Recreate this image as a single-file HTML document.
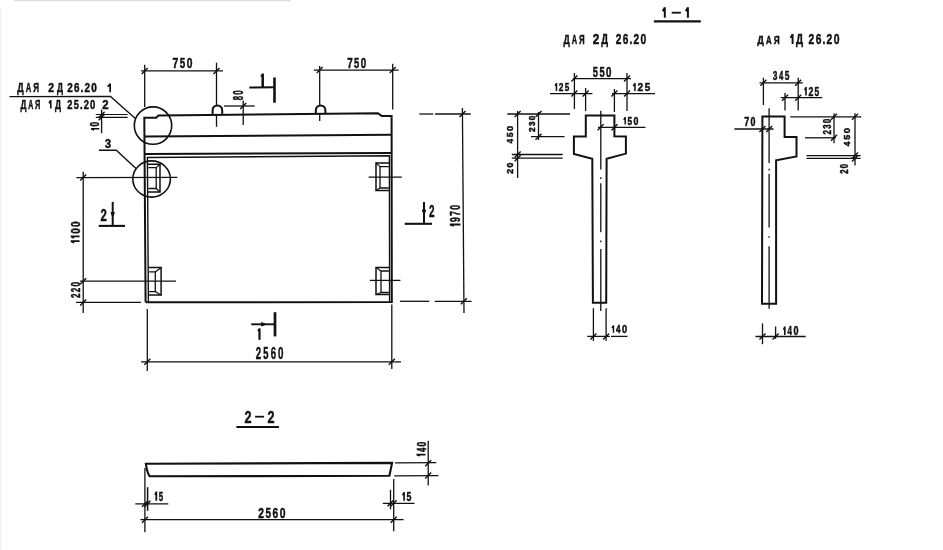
<!DOCTYPE html>
<html><head><meta charset="utf-8"><style>
html,body{margin:0;padding:0;background:#fff;}
svg{display:block;will-change:transform;}
text{font-family:"Liberation Sans",sans-serif;font-weight:bold;fill:#111;}
</style></head><body>
<svg width="943" height="550" viewBox="0 0 943 550">
<rect width="943" height="550" fill="#fff"/>
<polyline points="145.6,302.3 144.3,117.7 156.2,117.7 158.4,115.5 377.8,113.2 381.7,115.9 391.6,115.9 391.8,302.0 145.6,302.3" fill="none" stroke="#111" stroke-width="2.0" stroke-linejoin="miter"/>
<line x1="145" y1="136.6" x2="391.5" y2="134.7" stroke="#111" stroke-width="2.0" />
<line x1="145" y1="154.0" x2="391.5" y2="153.0" stroke="#111" stroke-width="2.0" />
<polyline points="148.4,302 147.4,157.5 389.4,155.7 389.6,301.5" fill="none" stroke="#111" stroke-width="1.4" stroke-linejoin="miter"/>
<path d="M212.6,114 L212.6,110.2 A4.8,4.8 0 0 1 222.20000000000002,110.2 L222.20000000000002,114" fill="none" stroke="#111" stroke-width="2.0"/>
<path d="M315.8,114 L315.8,110.2 A4.8,4.8 0 0 1 325.40000000000003,110.2 L325.40000000000003,114" fill="none" stroke="#111" stroke-width="2.0"/>
<polyline points="147.6,164.3 160.0,164.3 160.0,192.0 147.6,192.0" fill="none" stroke="#111" stroke-width="1.5" stroke-linejoin="miter"/>
<polyline points="148.4,167.6 156.2,167.6 156.2,188.5 148.4,188.5" fill="none" stroke="#111" stroke-width="1.3" stroke-linejoin="miter"/>
<line x1="156.2" y1="167.6" x2="160.0" y2="164.3" stroke="#111" stroke-width="1.2" />
<line x1="156.2" y1="188.5" x2="160.0" y2="192.0" stroke="#111" stroke-width="1.2" />
<polyline points="148.3,267.5 161.1,267.5 161.1,295.0 148.3,295.0" fill="none" stroke="#111" stroke-width="1.5" stroke-linejoin="miter"/>
<polyline points="149.10000000000002,271.9 155.3,271.9 155.3,291.6 149.10000000000002,291.6" fill="none" stroke="#111" stroke-width="1.3" stroke-linejoin="miter"/>
<line x1="155.3" y1="271.9" x2="161.1" y2="267.5" stroke="#111" stroke-width="1.2" />
<line x1="155.3" y1="291.6" x2="161.1" y2="295.0" stroke="#111" stroke-width="1.2" />
<polyline points="389.3,163.0 376.0,163.0 376.0,190.5 389.3,190.5" fill="none" stroke="#111" stroke-width="1.5" stroke-linejoin="miter"/>
<polyline points="388.8,166.6 380.0,166.6 380.0,188.0 388.8,188.0" fill="none" stroke="#111" stroke-width="1.3" stroke-linejoin="miter"/>
<line x1="380.0" y1="166.6" x2="376.0" y2="163.0" stroke="#111" stroke-width="1.2" />
<line x1="380.0" y1="188.0" x2="376.0" y2="190.5" stroke="#111" stroke-width="1.2" />
<polyline points="389.4,267.5 376.0,267.5 376.0,294.5 389.4,294.5" fill="none" stroke="#111" stroke-width="1.5" stroke-linejoin="miter"/>
<polyline points="388.9,271.0 381.0,271.0 381.0,292.5 388.9,292.5" fill="none" stroke="#111" stroke-width="1.3" stroke-linejoin="miter"/>
<line x1="381.0" y1="271.0" x2="376.0" y2="267.5" stroke="#111" stroke-width="1.2" />
<line x1="381.0" y1="292.5" x2="376.0" y2="294.5" stroke="#111" stroke-width="1.2" />
<line x1="76.4" y1="177.6" x2="177.3" y2="177.3" stroke="#111" stroke-width="1.3" />
<line x1="80" y1="281.2" x2="176" y2="281.2" stroke="#111" stroke-width="1.3" />
<line x1="368.6" y1="177.2" x2="401.8" y2="177.2" stroke="#111" stroke-width="1.3" />
<line x1="369.8" y1="280.4" x2="400.4" y2="280.4" stroke="#111" stroke-width="1.3" />
<circle cx="153" cy="125.6" r="18.7" fill="none" stroke="#111" stroke-width="1.6"/>
<ellipse cx="151.6" cy="179" rx="18.8" ry="18.1" fill="none" stroke="#111" stroke-width="1.6"/>
<polyline points="135.3,118.5 110.5,96.5 9.5,96.6" fill="none" stroke="#111" stroke-width="1.3" stroke-linejoin="miter"/>
<polyline points="136,168.5 116.3,150.3 99,150.3" fill="none" stroke="#111" stroke-width="1.4" stroke-linejoin="miter"/>
<text transform="translate(17.22 92.30) scale(0.701 1)" font-size="12.90" stroke="#111" stroke-width="0.5">Д</text>
<text transform="translate(25.74 92.30) scale(0.592 1)" font-size="12.90" stroke="#111" stroke-width="0.5">А</text>
<text transform="translate(33.34 92.30) scale(0.626 1)" font-size="12.90" stroke="#111" stroke-width="0.5">Я</text>
<text transform="translate(48.14 92.30) scale(0.808 1)" font-size="12.90" stroke="#111" stroke-width="0.5">2</text>
<text transform="translate(56.96 92.30) scale(0.653 1)" font-size="12.90" stroke="#111" stroke-width="0.5">Д</text>
<text transform="translate(67.16 92.30) scale(0.766 1)" font-size="12.90" stroke="#111" stroke-width="0.5">2</text>
<text transform="translate(74.03 92.30) scale(0.762 1)" font-size="12.90" stroke="#111" stroke-width="0.5">6</text>
<text transform="translate(80.60 92.30) scale(0.784 1)" font-size="12.90" stroke="#111" stroke-width="0.5">.</text>
<text transform="translate(84.51 92.30) scale(0.766 1)" font-size="12.90" stroke="#111" stroke-width="0.5">2</text>
<text transform="translate(91.35 92.30) scale(0.775 1)" font-size="12.90" stroke="#111" stroke-width="0.5">0</text>
<path d="M110.15,83.40 L110.15,92.30 M110.15,83.70 L107.70,86.78" fill="none" stroke="#111" stroke-width="1.69"/>
<text transform="translate(20.43 108.50) scale(0.669 1)" font-size="12.32" stroke="#111" stroke-width="0.5">Д</text>
<text transform="translate(28.19 108.50) scale(0.565 1)" font-size="12.32" stroke="#111" stroke-width="0.5">А</text>
<text transform="translate(35.11 108.50) scale(0.597 1)" font-size="12.32" stroke="#111" stroke-width="0.5">Я</text>
<path d="M50.77,100.00 L50.77,108.50 M50.77,100.30 L49.00,103.23" fill="none" stroke="#111" stroke-width="1.61"/>
<text transform="translate(55.03 108.50) scale(0.687 1)" font-size="12.32" stroke="#111" stroke-width="0.5">Д</text>
<text transform="translate(67.18 108.50) scale(0.760 1)" font-size="12.32" stroke="#111" stroke-width="0.5">2</text>
<text transform="translate(73.76 108.50) scale(0.736 1)" font-size="12.32" stroke="#111" stroke-width="0.5">5</text>
<text transform="translate(79.92 108.50) scale(0.778 1)" font-size="12.32" stroke="#111" stroke-width="0.5">.</text>
<text transform="translate(83.63 108.50) scale(0.760 1)" font-size="12.32" stroke="#111" stroke-width="0.5">2</text>
<text transform="translate(90.12 108.50) scale(0.769 1)" font-size="12.32" stroke="#111" stroke-width="0.5">0</text>
<text transform="translate(102.30 108.50) scale(0.927 1)" font-size="12.32" stroke="#111" stroke-width="0.5">2</text>
<text transform="translate(105.05 147.70) scale(0.815 1)" font-size="13.33" stroke="#111" stroke-width="0.5">3</text>
<line x1="95.8" y1="114.5" x2="127.6" y2="114.5" stroke="#111" stroke-width="1.2" />
<line x1="95.8" y1="117.3" x2="127.6" y2="117.3" stroke="#111" stroke-width="1.2" />
<line x1="101.6" y1="109.6" x2="101.6" y2="133.2" stroke="#111" stroke-width="1.3" />
<line x1="98.6" y1="117.7" x2="104.6" y2="111.7" stroke="#111" stroke-width="1.4" />
<line x1="98.6" y1="120.3" x2="104.6" y2="114.3" stroke="#111" stroke-width="1.4" />
<path transform="translate(99.3 130.1) rotate(-90) " d="M1.38,-8.30 L1.38,0.00 M1.38,-8.00 L0.20,-5.15" fill="none" stroke="#111" stroke-width="1.58" stroke-linecap="butt"/>
<text transform="translate(99.3 130.1) rotate(-90) translate(3.62 0.00) scale(0.690 1)" font-size="12.03" stroke="#111" stroke-width="0.5">0</text>
<line x1="141" y1="70.9" x2="223" y2="70.9" stroke="#111" stroke-width="1.3" />
<line x1="144.7" y1="64.8" x2="144.7" y2="107" stroke="#111" stroke-width="1.3" />
<line x1="216.5" y1="62.7" x2="216.5" y2="105.5" stroke="#111" stroke-width="1.3" />
<line x1="216.5" y1="114" x2="216.5" y2="126.8" stroke="#111" stroke-width="1.3" />
<line x1="141.7" y1="73.9" x2="147.7" y2="67.9" stroke="#111" stroke-width="1.4" />
<line x1="213.5" y1="73.9" x2="219.5" y2="67.9" stroke="#111" stroke-width="1.4" />
<text transform="translate(172.55 68.00) scale(0.739 1)" font-size="14.06" stroke="#111" stroke-width="0.5">7</text>
<text transform="translate(179.76 68.00) scale(0.697 1)" font-size="14.06" stroke="#111" stroke-width="0.5">5</text>
<text transform="translate(186.72 68.00) scale(0.729 1)" font-size="14.06" stroke="#111" stroke-width="0.5">0</text>
<line x1="313.8" y1="70.1" x2="398.6" y2="70.1" stroke="#111" stroke-width="1.3" />
<line x1="319.7" y1="65.9" x2="319.7" y2="105" stroke="#111" stroke-width="1.3" />
<line x1="319.7" y1="114" x2="319.7" y2="121" stroke="#111" stroke-width="1.3" />
<line x1="392.7" y1="63.8" x2="392.7" y2="109.4" stroke="#111" stroke-width="1.3" />
<line x1="316.7" y1="73.1" x2="322.7" y2="67.1" stroke="#111" stroke-width="1.4" />
<line x1="389.7" y1="73.1" x2="395.7" y2="67.1" stroke="#111" stroke-width="1.4" />
<text transform="translate(347.28 68.00) scale(0.714 1)" font-size="13.77" stroke="#111" stroke-width="0.5">7</text>
<text transform="translate(354.11 68.00) scale(0.674 1)" font-size="13.77" stroke="#111" stroke-width="0.5">5</text>
<text transform="translate(360.70 68.00) scale(0.705 1)" font-size="13.77" stroke="#111" stroke-width="0.5">0</text>
<line x1="224" y1="106" x2="254.7" y2="106" stroke="#111" stroke-width="1.3" />
<line x1="243.2" y1="100.6" x2="243.2" y2="125.1" stroke="#111" stroke-width="1.3" />
<line x1="240.2" y1="109.0" x2="246.2" y2="103.0" stroke="#111" stroke-width="1.4" />
<text transform="translate(242.7 100) rotate(-90) translate(-0.24 0.00) scale(0.547 1)" font-size="14.06" stroke="#111" stroke-width="0.5">8</text>
<text transform="translate(242.7 100) rotate(-90) translate(5.19 0.00) scale(0.568 1)" font-size="14.06" stroke="#111" stroke-width="0.5">0</text>
<line x1="249.3" y1="87.5" x2="273.8" y2="87.3" stroke="#111" stroke-width="1.9" />
<line x1="274.5" y1="77.5" x2="274.5" y2="102.7" stroke="#111" stroke-width="2.6" />
<line x1="262.7" y1="73.6" x2="262.7" y2="88" stroke="#111" stroke-width="2.5" />
<line x1="262.7" y1="74.5" x2="260.8" y2="76.5" stroke="#111" stroke-width="1.6" />
<line x1="251.2" y1="324.3" x2="274" y2="324.3" stroke="#111" stroke-width="1.9" />
<line x1="275" y1="312.2" x2="275" y2="336.4" stroke="#111" stroke-width="2.7" />
<path d="M261.5,322.6 L266,324.3 L261.5,326 Z" fill="#111" stroke="#111" stroke-width="1"/>
<line x1="259.5" y1="328.4" x2="259.5" y2="339.8" stroke="#111" stroke-width="2.2" />
<line x1="259.5" y1="329" x2="257.8" y2="331" stroke="#111" stroke-width="1.5" />
<line x1="98.7" y1="225.9" x2="125" y2="225.9" stroke="#111" stroke-width="2.1" />
<line x1="112.7" y1="201.9" x2="112.7" y2="225" stroke="#111" stroke-width="2.0" />
<path d="M111,212.5 L112.7,217 L114.4,212.5 Z" fill="#111" stroke="#111" stroke-width="1"/>
<text transform="translate(100.50 221.40) scale(0.662 1)" font-size="17.25" stroke="#111" stroke-width="0.5">2</text>
<line x1="404.7" y1="223.8" x2="432" y2="223.8" stroke="#111" stroke-width="2.1" />
<line x1="424" y1="202" x2="424" y2="223.8" stroke="#111" stroke-width="2.0" />
<path d="M422.3,210 L424,214.5 L425.7,210 Z" fill="#111" stroke="#111" stroke-width="1"/>
<text transform="translate(429.05 217.00) scale(0.573 1)" font-size="17.39" stroke="#111" stroke-width="0.5">2</text>
<line x1="419.3" y1="114" x2="433.3" y2="114" stroke="#111" stroke-width="1.3" />
<line x1="435.1" y1="114" x2="470.7" y2="114" stroke="#111" stroke-width="1.3" />
<line x1="400" y1="301.3" x2="429.3" y2="301.3" stroke="#111" stroke-width="1.3" />
<line x1="434.7" y1="301.3" x2="471.6" y2="301.3" stroke="#111" stroke-width="1.3" />
<line x1="462.4" y1="108" x2="464" y2="313" stroke="#111" stroke-width="1.3" />
<line x1="459.5" y1="117.0" x2="465.5" y2="111.0" stroke="#111" stroke-width="1.4" />
<line x1="460.8" y1="304.3" x2="466.8" y2="298.3" stroke="#111" stroke-width="1.4" />
<path transform="translate(460.4 225.9) rotate(-90) " d="M1.32,-10.60 L1.32,0.00 M1.32,-10.30 L0.20,-6.57" fill="none" stroke="#111" stroke-width="2.01" stroke-linecap="butt"/>
<text transform="translate(460.4 225.9) rotate(-90) translate(3.92 0.00) scale(0.568 1)" font-size="15.36" stroke="#111" stroke-width="0.5">9</text>
<text transform="translate(460.4 225.9) rotate(-90) translate(9.96 0.00) scale(0.586 1)" font-size="15.36" stroke="#111" stroke-width="0.5">7</text>
<text transform="translate(460.4 225.9) rotate(-90) translate(16.12 0.00) scale(0.578 1)" font-size="15.36" stroke="#111" stroke-width="0.5">0</text>
<line x1="83.2" y1="171.8" x2="83.2" y2="313" stroke="#111" stroke-width="1.3" />
<line x1="80.2" y1="180.6" x2="86.2" y2="174.6" stroke="#111" stroke-width="1.4" />
<line x1="80.2" y1="284.2" x2="86.2" y2="278.2" stroke="#111" stroke-width="1.4" />
<line x1="80.2" y1="305.4" x2="86.2" y2="299.4" stroke="#111" stroke-width="1.4" />
<line x1="76" y1="302.4" x2="141" y2="302.4" stroke="#111" stroke-width="1.3" />
<path transform="translate(79.6 243) rotate(-90) " d="M1.79,-8.90 L1.79,0.00 M1.79,-8.60 L0.20,-5.52" fill="none" stroke="#111" stroke-width="1.69" stroke-linecap="butt"/>
<path transform="translate(79.6 243) rotate(-90) " d="M6.57,-8.90 L6.57,0.00 M6.57,-8.60 L4.99,-5.52" fill="none" stroke="#111" stroke-width="1.69" stroke-linecap="butt"/>
<text transform="translate(79.6 243) rotate(-90) translate(9.17 0.00) scale(0.780 1)" font-size="12.90" stroke="#111" stroke-width="0.5">0</text>
<text transform="translate(79.6 243) rotate(-90) translate(16.12 0.00) scale(0.780 1)" font-size="12.90" stroke="#111" stroke-width="0.5">0</text>
<text transform="translate(80.3 297.6) rotate(-90) translate(-0.28 0.00) scale(0.654 1)" font-size="12.46" stroke="#111" stroke-width="0.5">2</text>
<text transform="translate(80.3 297.6) rotate(-90) translate(5.41 0.00) scale(0.654 1)" font-size="12.46" stroke="#111" stroke-width="0.5">2</text>
<text transform="translate(80.3 297.6) rotate(-90) translate(11.05 0.00) scale(0.662 1)" font-size="12.46" stroke="#111" stroke-width="0.5">0</text>
<line x1="147.3" y1="309" x2="147.3" y2="371" stroke="#111" stroke-width="1.3" />
<line x1="391.8" y1="304.5" x2="391.8" y2="369" stroke="#111" stroke-width="1.3" />
<line x1="141" y1="361.8" x2="401" y2="361.8" stroke="#111" stroke-width="1.3" />
<line x1="144.3" y1="364.8" x2="150.3" y2="358.8" stroke="#111" stroke-width="1.4" />
<line x1="388.8" y1="364.8" x2="394.8" y2="358.8" stroke="#111" stroke-width="1.4" />
<text transform="translate(255.87 359.30) scale(0.604 1)" font-size="15.94" stroke="#111" stroke-width="0.5">2</text>
<text transform="translate(263.33 359.30) scale(0.585 1)" font-size="15.94" stroke="#111" stroke-width="0.5">5</text>
<text transform="translate(270.69 359.30) scale(0.602 1)" font-size="15.94" stroke="#111" stroke-width="0.5">6</text>
<text transform="translate(278.08 359.30) scale(0.612 1)" font-size="15.94" stroke="#111" stroke-width="0.5">0</text>
<path d="M664.81,7.30 L664.81,17.70 M664.81,7.60 L662.70,11.25" fill="none" stroke="#111" stroke-width="1.98"/>
<line x1="671.7" y1="12.7" x2="680.9" y2="12.7" stroke="#111" stroke-width="1.8" />
<path d="M687.91,7.30 L687.91,17.70 M687.91,7.60 L685.80,11.25" fill="none" stroke="#111" stroke-width="1.98"/>
<line x1="653.9" y1="21.3" x2="700.8" y2="21.3" stroke="#111" stroke-width="2.2" />
<text transform="translate(563.42 43.60) scale(0.705 1)" font-size="12.46" stroke="#111" stroke-width="0.5">Д</text>
<text transform="translate(571.70 43.60) scale(0.595 1)" font-size="12.46" stroke="#111" stroke-width="0.5">А</text>
<text transform="translate(579.09 43.60) scale(0.629 1)" font-size="12.46" stroke="#111" stroke-width="0.5">Я</text>
<text transform="translate(592.79 43.80) scale(0.832 1)" font-size="14.20" stroke="#111" stroke-width="0.5">2</text>
<text transform="translate(601.37 43.80) scale(0.672 1)" font-size="14.20" stroke="#111" stroke-width="0.5">Д</text>
<text transform="translate(615.65 43.90) scale(0.665 1)" font-size="15.22" stroke="#111" stroke-width="0.5">2</text>
<text transform="translate(622.69 43.90) scale(0.662 1)" font-size="15.22" stroke="#111" stroke-width="0.5">6</text>
<text transform="translate(629.42 43.90) scale(0.680 1)" font-size="15.22" stroke="#111" stroke-width="0.5">.</text>
<text transform="translate(633.42 43.90) scale(0.665 1)" font-size="15.22" stroke="#111" stroke-width="0.5">2</text>
<text transform="translate(640.43 43.90) scale(0.673 1)" font-size="15.22" stroke="#111" stroke-width="0.5">0</text>
<polygon points="585.8,115.5 614.4,115.5 614.4,136.2 625.9,136.5 625.9,153.6 606.6,158.8 606.2,302.8 592.9,302.8 592.3,158.8 573.9,154 573.9,136.5 585.8,136.5" fill="none" stroke="#111" stroke-width="2.0" stroke-linejoin="miter"/>
<line x1="600.8" y1="110.8" x2="600.8" y2="169.5" stroke="#111" stroke-width="1.3" />
<line x1="600.8" y1="177.3" x2="600.8" y2="179" stroke="#111" stroke-width="1.3" />
<line x1="600.8" y1="183.3" x2="600.8" y2="232.3" stroke="#111" stroke-width="1.3" />
<line x1="600.8" y1="240.5" x2="600.8" y2="242.2" stroke="#111" stroke-width="1.3" />
<line x1="600.8" y1="248.9" x2="600.8" y2="311" stroke="#111" stroke-width="1.3" />
<line x1="573" y1="78.6" x2="631" y2="78.6" stroke="#111" stroke-width="1.3" />
<line x1="574.4" y1="73" x2="574.4" y2="109" stroke="#111" stroke-width="1.3" />
<line x1="627" y1="73" x2="627" y2="111" stroke="#111" stroke-width="1.3" />
<line x1="571.4" y1="81.6" x2="577.4" y2="75.6" stroke="#111" stroke-width="1.4" />
<line x1="624.0" y1="81.6" x2="630.0" y2="75.6" stroke="#111" stroke-width="1.4" />
<text transform="translate(592.71 77.00) scale(0.640 1)" font-size="14.49" stroke="#111" stroke-width="0.5">5</text>
<text transform="translate(599.41 77.00) scale(0.640 1)" font-size="14.49" stroke="#111" stroke-width="0.5">5</text>
<text transform="translate(606.00 77.00) scale(0.670 1)" font-size="14.49" stroke="#111" stroke-width="0.5">0</text>
<line x1="550" y1="93.6" x2="592.4" y2="93.6" stroke="#111" stroke-width="1.3" />
<line x1="612" y1="93.6" x2="655" y2="93.6" stroke="#111" stroke-width="1.3" />
<line x1="585.6" y1="88" x2="585.6" y2="111" stroke="#111" stroke-width="1.3" />
<line x1="614.4" y1="89" x2="614.4" y2="112" stroke="#111" stroke-width="1.3" />
<line x1="571.4" y1="96.6" x2="577.4" y2="90.6" stroke="#111" stroke-width="1.4" />
<line x1="582.6" y1="96.6" x2="588.6" y2="90.6" stroke="#111" stroke-width="1.4" />
<line x1="611.4" y1="96.6" x2="617.4" y2="90.6" stroke="#111" stroke-width="1.4" />
<line x1="624.0" y1="96.6" x2="630.0" y2="90.6" stroke="#111" stroke-width="1.4" />
<path d="M556.47,83.00 L556.47,91.00 M556.47,83.30 L555.20,86.04" fill="none" stroke="#111" stroke-width="1.52"/>
<text transform="translate(558.77 91.00) scale(0.727 1)" font-size="11.59" stroke="#111" stroke-width="0.5">2</text>
<text transform="translate(564.69 91.00) scale(0.703 1)" font-size="11.59" stroke="#111" stroke-width="0.5">5</text>
<path d="M634.95,83.00 L634.95,91.00 M634.95,83.30 L633.20,86.04" fill="none" stroke="#111" stroke-width="1.52"/>
<text transform="translate(637.57 91.00) scale(0.883 1)" font-size="11.59" stroke="#111" stroke-width="0.5">2</text>
<text transform="translate(644.77 91.00) scale(0.854 1)" font-size="11.59" stroke="#111" stroke-width="0.5">5</text>
<line x1="598" y1="127.3" x2="645.5" y2="127.3" stroke="#111" stroke-width="1.3" />
<line x1="597.6" y1="130.3" x2="603.6" y2="124.3" stroke="#111" stroke-width="1.4" />
<line x1="611.5" y1="130.3" x2="617.5" y2="124.3" stroke="#111" stroke-width="1.4" />
<path d="M625.18,117.00 L625.18,124.50 M625.18,117.30 L623.80,119.85" fill="none" stroke="#111" stroke-width="1.43"/>
<text transform="translate(627.52 124.50) scale(0.772 1)" font-size="10.87" stroke="#111" stroke-width="0.5">5</text>
<text transform="translate(633.48 124.50) scale(0.807 1)" font-size="10.87" stroke="#111" stroke-width="0.5">0</text>
<line x1="507.3" y1="114" x2="570" y2="114" stroke="#111" stroke-width="1.3" />
<line x1="531" y1="136.7" x2="564.5" y2="136.7" stroke="#111" stroke-width="1.3" />
<line x1="511.8" y1="154.5" x2="562.7" y2="154.5" stroke="#111" stroke-width="1.3" />
<line x1="511.8" y1="158.2" x2="562.7" y2="158.2" stroke="#111" stroke-width="1.3" />
<line x1="517.6" y1="111" x2="517.6" y2="178" stroke="#111" stroke-width="1.3" />
<line x1="538.5" y1="112" x2="538.5" y2="140" stroke="#111" stroke-width="1.3" />
<line x1="514.6" y1="117.0" x2="520.6" y2="111.0" stroke="#111" stroke-width="1.4" />
<line x1="514.6" y1="157.5" x2="520.6" y2="151.5" stroke="#111" stroke-width="1.4" />
<line x1="514.6" y1="161.2" x2="520.6" y2="155.2" stroke="#111" stroke-width="1.4" />
<line x1="535.5" y1="117.0" x2="541.5" y2="111.0" stroke="#111" stroke-width="1.4" />
<line x1="535.5" y1="139.7" x2="541.5" y2="133.7" stroke="#111" stroke-width="1.4" />
<text transform="translate(513.3 143.3) rotate(-90) translate(-0.12 0.00) scale(0.921 1)" font-size="8.84" stroke="#111" stroke-width="0.5">4</text>
<text transform="translate(513.3 143.3) rotate(-90) translate(6.05 0.00) scale(0.991 1)" font-size="8.84" stroke="#111" stroke-width="0.5">5</text>
<text transform="translate(513.3 143.3) rotate(-90) translate(12.28 0.00) scale(1.037 1)" font-size="8.84" stroke="#111" stroke-width="0.5">0</text>
<text transform="translate(534.9 131.6) rotate(-90) translate(-0.29 0.00) scale(0.946 1)" font-size="8.84" stroke="#111" stroke-width="0.5">2</text>
<text transform="translate(534.9 131.6) rotate(-90) translate(5.65 0.00) scale(0.916 1)" font-size="8.84" stroke="#111" stroke-width="0.5">3</text>
<text transform="translate(534.9 131.6) rotate(-90) translate(11.34 0.00) scale(0.957 1)" font-size="8.84" stroke="#111" stroke-width="0.5">0</text>
<text transform="translate(513.1 173.4) rotate(-90) translate(-0.31 0.00) scale(0.922 1)" font-size="9.57" stroke="#111" stroke-width="0.5">2</text>
<text transform="translate(513.1 173.4) rotate(-90) translate(5.80 0.00) scale(0.933 1)" font-size="9.57" stroke="#111" stroke-width="0.5">0</text>
<line x1="593.4" y1="308.2" x2="593.4" y2="341" stroke="#111" stroke-width="1.3" />
<line x1="606.1" y1="308.2" x2="606.1" y2="341" stroke="#111" stroke-width="1.3" />
<line x1="587.3" y1="336.4" x2="609.8" y2="336.4" stroke="#111" stroke-width="1.3" />
<line x1="611" y1="336.4" x2="627.5" y2="336.4" stroke="#111" stroke-width="1.3" />
<line x1="590.4" y1="339.4" x2="596.4" y2="333.4" stroke="#111" stroke-width="1.4" />
<line x1="603.1" y1="339.4" x2="609.1" y2="333.4" stroke="#111" stroke-width="1.4" />
<path d="M613.48,325.30 L613.48,332.80 M613.48,325.60 L612.00,328.15" fill="none" stroke="#111" stroke-width="1.43"/>
<text transform="translate(616.02 332.80) scale(0.747 1)" font-size="10.87" stroke="#111" stroke-width="0.5">4</text>
<text transform="translate(622.09 332.80) scale(0.841 1)" font-size="10.87" stroke="#111" stroke-width="0.5">0</text>
<text transform="translate(757.32 44.00) scale(0.799 1)" font-size="11.59" stroke="#111" stroke-width="0.5">Д</text>
<text transform="translate(766.04 44.00) scale(0.674 1)" font-size="11.59" stroke="#111" stroke-width="0.5">А</text>
<text transform="translate(773.82 44.00) scale(0.712 1)" font-size="11.59" stroke="#111" stroke-width="0.5">Я</text>
<path d="M792.60,34.00 L792.60,44.00 M792.60,34.30 L790.50,37.80" fill="none" stroke="#111" stroke-width="1.90"/>
<text transform="translate(796.12 44.00) scale(0.684 1)" font-size="14.49" stroke="#111" stroke-width="0.5">Д</text>
<text transform="translate(808.54 44.00) scale(0.710 1)" font-size="14.49" stroke="#111" stroke-width="0.5">2</text>
<text transform="translate(815.70 44.00) scale(0.707 1)" font-size="14.49" stroke="#111" stroke-width="0.5">6</text>
<text transform="translate(822.54 44.00) scale(0.726 1)" font-size="14.49" stroke="#111" stroke-width="0.5">.</text>
<text transform="translate(826.61 44.00) scale(0.710 1)" font-size="14.49" stroke="#111" stroke-width="0.5">2</text>
<text transform="translate(833.74 44.00) scale(0.718 1)" font-size="14.49" stroke="#111" stroke-width="0.5">0</text>
<polygon points="762.4,116.6 784.6,116.6 784.6,136.9 796.5,136.9 796.5,156.5 776.1,160.3 776.1,303.8 762.0,303.8" fill="none" stroke="#111" stroke-width="2.0" stroke-linejoin="miter"/>
<line x1="769.1" y1="108.3" x2="769.1" y2="163" stroke="#111" stroke-width="1.3" />
<line x1="769.1" y1="168.8" x2="769.1" y2="170.5" stroke="#111" stroke-width="1.3" />
<line x1="769.1" y1="173.8" x2="769.1" y2="227.6" stroke="#111" stroke-width="1.3" />
<line x1="769.1" y1="236.2" x2="769.1" y2="237.8" stroke="#111" stroke-width="1.3" />
<line x1="769.1" y1="246.2" x2="769.1" y2="308.8" stroke="#111" stroke-width="1.3" />
<line x1="759.5" y1="82.8" x2="802.8" y2="82.8" stroke="#111" stroke-width="1.3" />
<line x1="763.4" y1="77.7" x2="763.4" y2="105" stroke="#111" stroke-width="1.3" />
<line x1="798.2" y1="77.7" x2="798.2" y2="110.5" stroke="#111" stroke-width="1.3" />
<line x1="760.4" y1="85.8" x2="766.4" y2="79.8" stroke="#111" stroke-width="1.4" />
<line x1="795.2" y1="85.8" x2="801.2" y2="79.8" stroke="#111" stroke-width="1.4" />
<text transform="translate(772.81 80.20) scale(0.678 1)" font-size="12.32" stroke="#111" stroke-width="0.5">3</text>
<text transform="translate(778.91 80.20) scale(0.630 1)" font-size="12.32" stroke="#111" stroke-width="0.5">4</text>
<text transform="translate(784.79 80.20) scale(0.678 1)" font-size="12.32" stroke="#111" stroke-width="0.5">5</text>
<line x1="780.7" y1="97.7" x2="822.3" y2="97.7" stroke="#111" stroke-width="1.3" />
<line x1="785" y1="93" x2="785" y2="110.5" stroke="#111" stroke-width="1.3" />
<line x1="782.0" y1="100.7" x2="788.0" y2="94.7" stroke="#111" stroke-width="1.4" />
<line x1="795.2" y1="100.7" x2="801.2" y2="94.7" stroke="#111" stroke-width="1.4" />
<path d="M806.00,87.00 L806.00,95.50 M806.00,87.30 L804.70,90.23" fill="none" stroke="#111" stroke-width="1.61"/>
<text transform="translate(808.40 95.50) scale(0.709 1)" font-size="12.32" stroke="#111" stroke-width="0.5">2</text>
<text transform="translate(814.54 95.50) scale(0.686 1)" font-size="12.32" stroke="#111" stroke-width="0.5">5</text>
<line x1="734.4" y1="129" x2="773.5" y2="129" stroke="#111" stroke-width="1.3" />
<line x1="759.4" y1="132.0" x2="765.4" y2="126.0" stroke="#111" stroke-width="1.4" />
<line x1="766.2" y1="132.0" x2="772.2" y2="126.0" stroke="#111" stroke-width="1.4" />
<text transform="translate(744.21 126.20) scale(0.726 1)" font-size="12.46" stroke="#111" stroke-width="0.5">7</text>
<text transform="translate(750.40 126.20) scale(0.716 1)" font-size="12.46" stroke="#111" stroke-width="0.5">0</text>
<line x1="790.2" y1="116.8" x2="861.3" y2="116.8" stroke="#111" stroke-width="1.3" />
<line x1="805" y1="137.8" x2="835.8" y2="137.8" stroke="#111" stroke-width="1.3" />
<line x1="806.5" y1="155.6" x2="860.6" y2="155.6" stroke="#111" stroke-width="1.3" />
<line x1="806.5" y1="158.4" x2="860.6" y2="158.4" stroke="#111" stroke-width="1.3" />
<line x1="834" y1="113.2" x2="834" y2="143.3" stroke="#111" stroke-width="1.3" />
<line x1="855" y1="113.2" x2="855" y2="165.6" stroke="#111" stroke-width="1.3" />
<line x1="831.0" y1="119.8" x2="837.0" y2="113.8" stroke="#111" stroke-width="1.4" />
<line x1="831.0" y1="140.8" x2="837.0" y2="134.8" stroke="#111" stroke-width="1.4" />
<line x1="852.0" y1="119.8" x2="858.0" y2="113.8" stroke="#111" stroke-width="1.4" />
<line x1="852.0" y1="158.6" x2="858.0" y2="152.6" stroke="#111" stroke-width="1.4" />
<line x1="852.0" y1="161.4" x2="858.0" y2="155.4" stroke="#111" stroke-width="1.4" />
<text transform="translate(831.4 134.2) rotate(-90) translate(-0.28 0.00) scale(0.702 1)" font-size="11.45" stroke="#111" stroke-width="0.5">2</text>
<text transform="translate(831.4 134.2) rotate(-90) translate(5.44 0.00) scale(0.680 1)" font-size="11.45" stroke="#111" stroke-width="0.5">3</text>
<text transform="translate(831.4 134.2) rotate(-90) translate(10.91 0.00) scale(0.711 1)" font-size="11.45" stroke="#111" stroke-width="0.5">0</text>
<text transform="translate(849.7 146) rotate(-90) translate(-0.13 0.00) scale(0.886 1)" font-size="9.57" stroke="#111" stroke-width="0.5">4</text>
<text transform="translate(849.7 146) rotate(-90) translate(6.30 0.00) scale(0.954 1)" font-size="9.57" stroke="#111" stroke-width="0.5">5</text>
<text transform="translate(849.7 146) rotate(-90) translate(12.78 0.00) scale(0.998 1)" font-size="9.57" stroke="#111" stroke-width="0.5">0</text>
<text transform="translate(848.4 173.4) rotate(-90) translate(-0.27 0.00) scale(0.739 1)" font-size="10.43" stroke="#111" stroke-width="0.5">2</text>
<text transform="translate(848.4 173.4) rotate(-90) translate(5.08 0.00) scale(0.748 1)" font-size="10.43" stroke="#111" stroke-width="0.5">0</text>
<line x1="762.5" y1="323.4" x2="762.5" y2="344.2" stroke="#111" stroke-width="1.3" />
<line x1="775.6" y1="326.5" x2="775.6" y2="338.8" stroke="#111" stroke-width="1.3" />
<line x1="755.5" y1="336.5" x2="805.7" y2="336.5" stroke="#111" stroke-width="1.3" />
<line x1="759.5" y1="339.5" x2="765.5" y2="333.5" stroke="#111" stroke-width="1.4" />
<line x1="772.6" y1="339.5" x2="778.6" y2="333.5" stroke="#111" stroke-width="1.4" />
<path d="M784.84,326.50 L784.84,335.00 M784.84,326.80 L783.50,329.73" fill="none" stroke="#111" stroke-width="1.61"/>
<text transform="translate(787.44 335.00) scale(0.646 1)" font-size="12.32" stroke="#111" stroke-width="0.5">4</text>
<text transform="translate(793.38 335.00) scale(0.727 1)" font-size="12.32" stroke="#111" stroke-width="0.5">0</text>
<text transform="translate(244.46 422.50) scale(0.729 1)" font-size="17.39" stroke="#111" stroke-width="0.5">2</text>
<line x1="255.1" y1="416.7" x2="264.1" y2="416.7" stroke="#111" stroke-width="1.8" />
<text transform="translate(267.46 422.50) scale(0.729 1)" font-size="17.39" stroke="#111" stroke-width="0.5">2</text>
<line x1="236.4" y1="426.9" x2="279" y2="426.9" stroke="#111" stroke-width="2.0" />
<path d="M145.8,463.7 L392.1,462.9 L389.4,475.8 L149.5,476.3 Q147,472 145.8,463.7 Z" fill="none" stroke="#111" stroke-width="2.1"/>
<line x1="144.9" y1="468" x2="144.9" y2="532.3" stroke="#111" stroke-width="1.3" />
<line x1="147.6" y1="487.2" x2="147.6" y2="510.8" stroke="#111" stroke-width="1.5" />
<line x1="135.3" y1="503.8" x2="168.3" y2="503.8" stroke="#111" stroke-width="1.3" />
<line x1="142.0" y1="506.8" x2="148.0" y2="500.8" stroke="#111" stroke-width="1.4" />
<line x1="144.5" y1="506.8" x2="150.5" y2="500.8" stroke="#111" stroke-width="1.4" />
<path d="M156.30,491.60 L156.30,500.80 M156.30,491.90 L155.20,495.10" fill="none" stroke="#111" stroke-width="1.75"/>
<text transform="translate(158.71 500.80) scale(0.595 1)" font-size="13.33" stroke="#111" stroke-width="0.5">5</text>
<line x1="140.4" y1="519.7" x2="403.6" y2="519.7" stroke="#111" stroke-width="1.3" />
<line x1="142.0" y1="522.7" x2="148.0" y2="516.7" stroke="#111" stroke-width="1.4" />
<line x1="390.7" y1="522.7" x2="396.7" y2="516.7" stroke="#111" stroke-width="1.4" />
<text transform="translate(258.35 517.60) scale(0.658 1)" font-size="15.51" stroke="#111" stroke-width="0.5">2</text>
<text transform="translate(265.52 517.60) scale(0.637 1)" font-size="15.51" stroke="#111" stroke-width="0.5">5</text>
<text transform="translate(272.58 517.60) scale(0.656 1)" font-size="15.51" stroke="#111" stroke-width="0.5">6</text>
<text transform="translate(279.68 517.60) scale(0.667 1)" font-size="15.51" stroke="#111" stroke-width="0.5">0</text>
<line x1="393.7" y1="478.9" x2="393.7" y2="531.2" stroke="#111" stroke-width="1.3" />
<line x1="390.5" y1="489.8" x2="390.5" y2="509.4" stroke="#111" stroke-width="1.3" />
<line x1="382.8" y1="503.3" x2="414.5" y2="503.3" stroke="#111" stroke-width="1.3" />
<line x1="387.5" y1="506.3" x2="393.5" y2="500.3" stroke="#111" stroke-width="1.4" />
<line x1="390.7" y1="506.3" x2="396.7" y2="500.3" stroke="#111" stroke-width="1.4" />
<path d="M404.07,492.00 L404.07,500.70 M404.07,492.30 L402.70,495.31" fill="none" stroke="#111" stroke-width="1.65"/>
<text transform="translate(406.58 500.70) scale(0.693 1)" font-size="12.61" stroke="#111" stroke-width="0.5">5</text>
<line x1="395.1" y1="462.9" x2="436.3" y2="462.6" stroke="#111" stroke-width="1.3" />
<line x1="394.3" y1="475.8" x2="438.4" y2="475.6" stroke="#111" stroke-width="1.3" />
<line x1="428.2" y1="440.7" x2="428.2" y2="485.4" stroke="#111" stroke-width="1.3" />
<line x1="425.2" y1="466.2" x2="431.2" y2="460.2" stroke="#111" stroke-width="1.4" />
<line x1="425.2" y1="478.6" x2="431.2" y2="472.6" stroke="#111" stroke-width="1.4" />
<path transform="translate(425.5 456) rotate(-90) " d="M1.38,-9.00 L1.38,0.00 M1.38,-8.70 L0.20,-5.58" fill="none" stroke="#111" stroke-width="1.71" stroke-linecap="butt"/>
<text transform="translate(425.5 456) rotate(-90) translate(3.94 0.00) scale(0.581 1)" font-size="13.04" stroke="#111" stroke-width="0.5">4</text>
<text transform="translate(425.5 456) rotate(-90) translate(9.60 0.00) scale(0.654 1)" font-size="13.04" stroke="#111" stroke-width="0.5">0</text>
<line x1="14" y1="0.6" x2="291" y2="0.6" stroke="#ddd" stroke-width="1.5" />
<line x1="0.6" y1="8" x2="0.6" y2="550" stroke="#eee" stroke-width="1.2" />
<line x1="6" y1="8" x2="6" y2="550" stroke="#f6f6f6" stroke-width="0.8" />
</svg>
</body></html>
